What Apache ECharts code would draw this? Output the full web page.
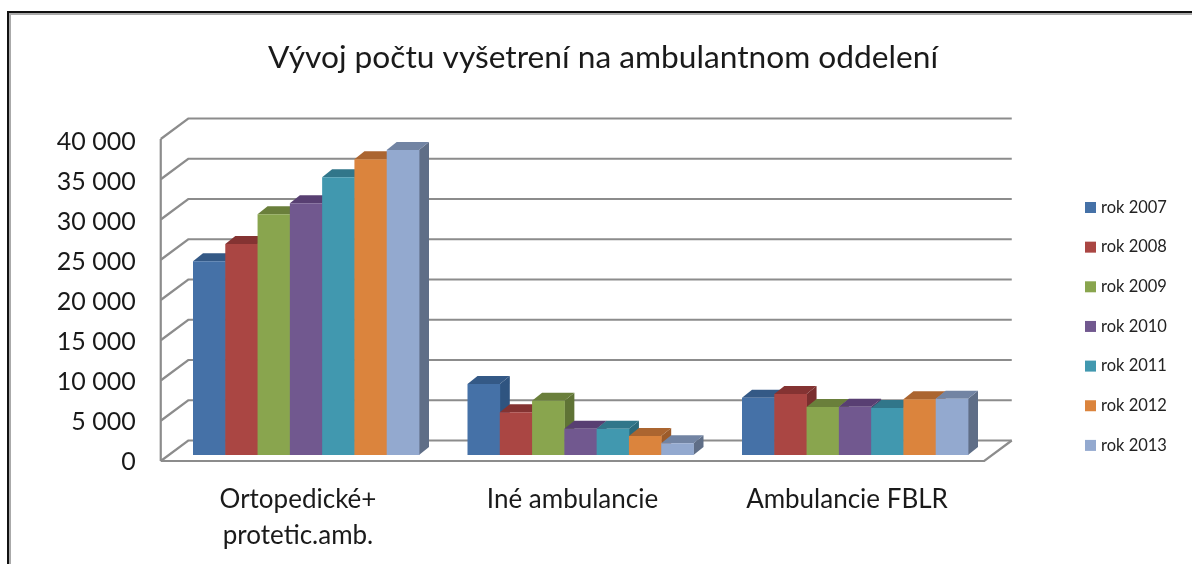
<!DOCTYPE html>
<html>
<head>
<meta charset="utf-8">
<style>html,body{margin:0;padding:0;background:#fff}#c{width:1192px;height:564px;filter:blur(0.45px)}</style>
<script src="https://cdn.jsdelivr.net/npm/echarts@6/dist/echarts.min.js"></script>
</head>
<body>
<div id="c"></div>
<script>
const titleText = 'Vývoj počtu vyšetrení na ambulantnom oddelení';
const categories = ['Ortopedické+\nprotetic.amb.', 'Iné ambulancie', 'Ambulancie FBLR'];
const years = ['rok 2007','rok 2008','rok 2009','rok 2010','rok 2011','rok 2012','rok 2013'];
const rok2007 = [24060, 8820, 7120];
const rok2008 = [26200, 5300, 7580];
const rok2009 = [29900, 6750, 5960];
const rok2010 = [31270, 3270, 6000];
const rok2011 = [34500, 3270, 5840];
const rok2012 = [36730, 2360, 6920];
const rok2013 = [37890, 1450, 7000];
const yTicks = [0,5000,10000,15000,20000,25000,30000,35000,40000];
const allYears = [rok2007,rok2008,rok2009,rok2010,rok2011,rok2012,rok2013];

const frontColors = ['#4571a7','#aa4643','#89a54e','#71588f','#4198af','#db843d','#93a9cf'];
const topColors   = ['#345986','#843332','#6a7f3b','#583f72','#31768a','#ab6530','#7284a3'];
const sideColors  = ['#2f5480','#7a2f2e','#5f7335','#4f3868','#2b6a7c','#9c5b2a','#5f6e87'];

const FONT = 'Lato, "Noto Sans", sans-serif';
const GRID = {left:168.75, right:1192-992.25, top:133, bottom:564-455};
const LABEL_GRID = {left:168.75, right:1192-992.25, top:142, bottom:564-461.5};
const BAR_DX = 10, BAR_DY = 8, GROUP_RATIO = 226/274.5;
const FRONT_DX = -8, FRONT_DY = 6, BACK_DX = 19.5, BACK_DY = -14.5;
const WALL = '#8c8c8c';

function wallItem(params, api){
  const cs = params.coordSys;
  const y = api.coord([0, api.value(1)])[1];
  const style = {stroke:WALL, lineWidth:2.2, fill:null};
  const L = cs.x, R = cs.x + cs.width;
  const pts = [[L+FRONT_DX, y+FRONT_DY],[L+BACK_DX, y+BACK_DY],[R+BACK_DX, y+BACK_DY]];
  const children = [{type:'polyline', shape:{points:pts}, style}];
  if (api.value(1) === 0) {
    children.push({type:'polyline', shape:{points:[[L+FRONT_DX,y+FRONT_DY],[R+FRONT_DX,y+FRONT_DY],[R+BACK_DX,y+BACK_DY]]}, style});
    const yTop = api.coord([0, 40000])[1];
    children.push({type:'line', shape:{x1:L+FRONT_DX,y1:yTop+FRONT_DY,x2:L+FRONT_DX,y2:y+FRONT_DY}, style});
  }
  return {type:'group', children};
}

function barItem(idx){
  return function(params, api){
    const cat = api.value(0), val = api.value(1);
    const band = api.size([1,0])[0];
    const w = band*GROUP_RATIO/7;
    const base = api.coord([cat,0]);
    const top = api.coord([cat,val]);
    const x0 = base[0] - band*GROUP_RATIO/2 + idx*w, x1 = x0 + w;
    const yb = base[1], yt = top[1];
    return {type:'group', children:[
      {type:'polygon', shape:{points:[[x1,yb],[x1+BAR_DX,yb-BAR_DY],[x1+BAR_DX,yt-BAR_DY],[x1,yt]]}, style:{fill:sideColors[idx]}},
      {type:'polygon', shape:{points:[[x0,yt],[x1,yt],[x1+BAR_DX,yt-BAR_DY],[x0+BAR_DX,yt-BAR_DY]]}, style:{fill:topColors[idx]}},
      {type:'rect', shape:{x:x0,y:yt,width:w+0.4,height:yb-yt}, style:{fill:frontColors[idx]}}
    ]};
  };
}

const series = [{
  type:'custom', name:'walls', silent:true, z:1, clip:false,
  renderItem:wallItem, encode:{x:0,y:1},
  data:yTicks.map(v=>[0,v])
}].concat(years.map((name,i)=>({
  type:'custom', name, z:2+i, clip:false,
  itemStyle:{color:frontColors[i]},
  renderItem:barItem(i), encode:{x:0,y:1},
  data:allYears[i].map((v,c)=>[c,v])
})));

const chart = echarts.init(document.getElementById('c'));
chart.setOption({
  animation:false,
  backgroundColor:'#fff',
  title:{text:titleText, left:603, top:42, textAlign:'center', padding:0,
    textStyle:{fontFamily:FONT, fontSize:31.7, fontWeight:'normal', color:'#1a1a1a'}},
  legend:{data:years, orient:'vertical', left:1085, top:199, padding:0, itemWidth:11, itemHeight:11, itemGap:22.65,
    icon:'rect', selectedMode:false,
    textStyle:{fontFamily:FONT, fontSize:16.5, color:'#222'}},
  grid:[GRID, LABEL_GRID],
  xAxis:[
    {type:'category', data:categories, gridIndex:0,
      axisLine:{show:false}, axisTick:{show:false}, splitLine:{show:false},
      axisLabel:{fontFamily:FONT, fontSize:26, color:'#1a1a1a', margin:26.5, lineHeight:36, padding:[0,16,0,0], interval:0}},
    {type:'value', gridIndex:1, show:false}
  ],
  yAxis:[
    {type:'value', gridIndex:0, min:0, max:40000, interval:5000, show:false, splitLine:{show:false}},
    {type:'value', gridIndex:1, min:0, max:40000, interval:5000,
      axisLine:{show:false}, axisTick:{show:false}, splitLine:{show:false},
      axisLabel:{fontFamily:FONT, fontSize:25, color:'#1a1a1a', margin:33,
        formatter:v=>String(v).replace(/\B(?=(\d{3})+$)/g,' ')}}
  ],
  graphic:[
    {type:'line', shape:{x1:8,y1:12,x2:1192,y2:12}, style:{stroke:'#111',lineWidth:2}, silent:true},
    {type:'line', shape:{x1:8,y1:14,x2:1192,y2:14}, style:{stroke:'#aaa',lineWidth:2}, silent:true},
    {type:'line', shape:{x1:8,y1:11,x2:8,y2:564}, style:{stroke:'#111',lineWidth:2}, silent:true},
    {type:'line', shape:{x1:10,y1:13,x2:10,y2:564}, style:{stroke:'#aaa',lineWidth:2}, silent:true}
  ],
  series
});
</script>
</body>
</html>
